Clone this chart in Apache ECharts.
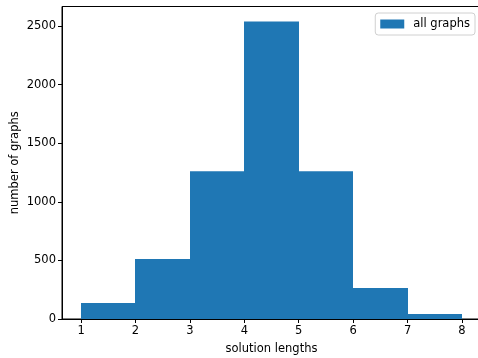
<!DOCTYPE html>
<html>
<head>
<meta charset="utf-8">
<script src="https://cdn.jsdelivr.net/npm/echarts@6/dist/echarts.min.js"></script>
<style>
  html, body { margin: 0; padding: 0; background: #fff; }
  #chart { width: 478px; height: 358px; }
</style>
</head>
<body>
<div id="chart"></div>
<script>
// histogram bins and counts
const binEdges = [1, 2, 3, 4, 5, 6, 7, 8]
const counts = [136, 511, 1261, 2540, 1261, 264, 43]
const xTicks = [1, 2, 3, 4, 5, 6, 7, 8]
const yTicks = [0, 500, 1000, 1500, 2000, 2500]

const font = 'DejaVu Sans'
const fs = 11.5
const barData = counts.map((c, i) => [binEdges[i], binEdges[i + 1], c])

const option = {
  animation: false,
  backgroundColor: '#fff',
  grid: {
    left: 62,
    right: -3,
    top: 6.5,
    bottom: 39,
    outerBoundsMode: 'none',
    containLabel: false,
    show: true,
    borderColor: '#000',
    borderWidth: 1,
    backgroundColor: 'transparent'
  },
  legend: {
    right: 3,
    top: 13,
    itemWidth: 24,
    itemHeight: 9,
    itemGap: 8,
    padding: [5, 5, 5, 5],
    borderColor: '#d0d0d0',
    borderWidth: 1,
    borderRadius: 3,
    textStyle: { fontFamily: font, fontSize: fs, color: '#000', padding: [0, 0, 0, 4] },
    data: [{ name: 'all graphs', icon: 'rect' }]
  },
  xAxis: {
    type: 'value',
    min: 0.65,
    max: 8.35,
    name: 'solution lengths',
    nameLocation: 'middle',
    nameGap: 24,
    nameMoveOverlap: false,
    nameTextStyle: { fontFamily: font, fontSize: fs, color: '#000' },
    splitLine: { show: false },
    axisLine: { show: true, onZero: false, lineStyle: { color: '#000', width: 1 } },
    axisTick: { show: true, length: 4, customValues: xTicks, lineStyle: { color: '#000' } },
    axisLabel: { customValues: xTicks, fontFamily: font, fontSize: fs, color: '#000', margin: 6 }
  },
  yAxis: {
    type: 'value',
    min: 0,
    max: 2667,
    name: 'number of graphs',
    nameLocation: 'middle',
    nameGap: 41,
    nameMoveOverlap: false,
    nameTextStyle: { fontFamily: font, fontSize: fs, color: '#000' },
    splitLine: { show: false },
    axisLine: { show: true, lineStyle: { color: '#000', width: 1 } },
    axisTick: { show: true, length: 4, customValues: yTicks, lineStyle: { color: '#000' } },
    axisLabel: {
      customValues: yTicks,
      formatter: (v) => String(v),
      fontFamily: font, fontSize: fs, color: '#000', margin: 6
    }
  },
  series: [
    {
      name: 'all graphs',
      type: 'custom',
      itemStyle: { color: '#1f77b4' },
      encode: { x: [0, 1], y: 2 },
      data: barData,
      renderItem: function (params, api) {
        const p0 = api.coord([api.value(0), api.value(2)])
        const p1 = api.coord([api.value(1), 0])
        const x0 = Math.round(p0[0])
        const x1 = Math.round(p1[0])
        return {
          type: 'rect',
          shape: { x: x0, y: p0[1], width: x1 - x0, height: p1[1] - p0[1] },
          style: { fill: '#1f77b4' }
        }
      }
    }
  ]
}

echarts.init(document.getElementById('chart')).setOption(option)
</script>
</body>
</html>
